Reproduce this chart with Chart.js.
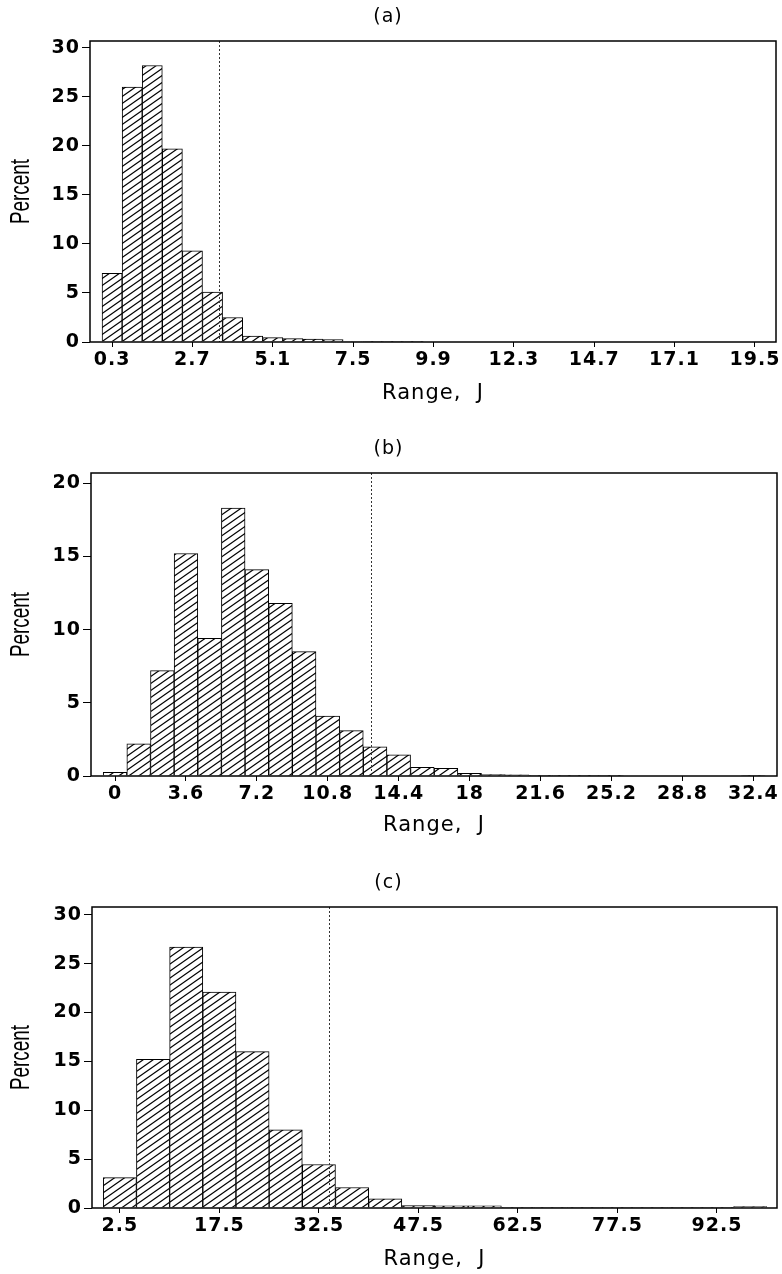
<!DOCTYPE html>
<html>
<head>
<meta charset="utf-8">
<script src="https://cdn.jsdelivr.net/npm/chart.js@4.4.1/dist/chart.umd.min.js"></script>
<style>
  html, body { margin: 0; padding: 0; background: #fff; }
  body { width: 782px; height: 1274px; position: relative; overflow: hidden; }
  canvas { position: absolute; left: 0; }
</style>
</head>
<body>
<canvas id="chartA" width="782" height="408" style="top:0px"></canvas>
<canvas id="chartB" width="782" height="408" style="top:432px"></canvas>
<canvas id="chartC" width="782" height="408" style="top:866px"></canvas>
<script>
// (a) bins of 0.6 J
const binsA = [0.3, 0.9, 1.5, 2.1, 2.7, 3.3, 3.9, 4.5, 5.1, 5.7, 6.3, 6.9, 7.5, 8.1, 8.7, 9.3];
const pctA  = [7.0, 26.0, 28.2, 19.7, 9.3, 5.1, 2.5, 0.6, 0.45, 0.35, 0.3, 0.25, 0.05, 0.04, 0.03, 0.02];
const xTicksA = [0.3, 2.7, 5.1, 7.5, 9.9, 12.3, 14.7, 17.1, 19.5];
const yTicksA = [0, 5, 10, 15, 20, 25, 30];
const cutA = 3.5;

// (b) bins of 1.2 J
const binsB = [0, 1.2, 2.4, 3.6, 4.8, 6.0, 7.2, 8.4, 9.6, 10.8, 12.0, 13.2, 14.4, 15.6, 16.8, 18.0, 19.2, 20.4, 21.6, 22.8, 24.0, 25.2, 26.4, 27.6, 28.8, 30.0, 31.2, 32.4];
const pctB  = [0.25, 2.2, 7.2, 15.2, 9.4, 18.3, 14.1, 11.8, 8.5, 4.1, 3.1, 2.0, 1.45, 0.6, 0.52, 0.18, 0.1, 0.08, 0.01, 0.01, 0.05, 0.01, 0, 0, 0, 0, 0, 0.03];
const xTicksB = [0, 3.6, 7.2, 10.8, 14.4, 18, 21.6, 25.2, 28.8, 32.4];
const yTicksB = [0, 5, 10, 15, 20];
const cutB = 13.0;

// (c) bins of 5 J
const binsC = [2.5, 7.5, 12.5, 17.5, 22.5, 27.5, 32.5, 37.5, 42.5, 47.5, 52.5, 57.5, 62.5, 67.5, 72.5, 77.5, 82.5, 87.5, 92.5, 97.5];
const pctC  = [3.1, 15.2, 26.7, 22.1, 16.0, 8.0, 4.45, 2.1, 0.95, 0.25, 0.22, 0.22, 0.03, 0.02, 0.02, 0.02, 0.02, 0.02, 0.03, 0.15];
const xTicksC = [2.5, 17.5, 32.5, 47.5, 62.5, 77.5, 92.5];
const yTicksC = [0, 5, 10, 15, 20, 25, 30];
const cutC = 34.0;

// hatch pattern "///"
function hatch() {
  const W = 10, H = 7;
  const c = document.createElement('canvas');
  c.width = W; c.height = H;
  const g = c.getContext('2d');
  g.fillStyle = '#fff';
  g.fillRect(0, 0, W, H);
  g.strokeStyle = '#000';
  g.lineWidth = 1.2;
  for (let k = -1; k <= 1; k++) {
    g.beginPath();
    g.moveTo(-1, (k + 1) * H + H / W);
    g.lineTo(W + 1, (k + 1) * H - H - H / W);
    g.stroke();
  }
  return document.getElementById('chartA').getContext('2d').createPattern(c, 'repeat');
}
const fill = hatch();

const tickFont = { family: "'DejaVu Sans', sans-serif", size: 19, weight: 'bold' };

// letter spacing, frame, dotted cut line, narrow "Percent" label
const extras = {
  id: 'extras',
  beforeDraw(chart) { chart.ctx.letterSpacing = '1px'; },
  afterDatasetsDraw(chart, args, opts) {
    const { ctx, chartArea: a, scales } = chart;
    const x = scales.x.getPixelForValue(opts.cut);
    ctx.save();
    ctx.strokeStyle = '#333';
    ctx.lineWidth = 1;
    ctx.setLineDash([2, 2]);
    ctx.beginPath();
    ctx.moveTo(Math.round(x) + 0.5, a.top);
    ctx.lineTo(Math.round(x) + 0.5, a.bottom);
    ctx.stroke();
    ctx.setLineDash([]);
    ctx.lineWidth = 1.5;
    ctx.strokeStyle = '#000';
    ctx.strokeRect(a.left, a.top, a.right - a.left, a.bottom - a.top);
    ctx.restore();
  },
  afterDraw(chart, args, opts) {
    const { ctx, chartArea: a } = chart;
    ctx.save();
    ctx.letterSpacing = '0px';
    ctx.translate(22, (a.top + a.bottom) / 2);
    ctx.rotate(-Math.PI / 2);
    ctx.scale(0.7, 1);
    ctx.font = "27px 'Liberation Sans', sans-serif";
    ctx.fillStyle = '#000';
    ctx.textAlign = 'center';
    ctx.textBaseline = 'middle';
    ctx.fillText(opts.yLabel, 0, 0);
    ctx.restore();
  }
};

function makeHist(id, title, bins, pct, xTicks, yTicks, xmin, xmax, ymax, cut, yWidth, xHeight, padRight) {
  new Chart(document.getElementById(id), {
    type: 'bar',
    data: {
      datasets: [{
        data: bins.map((b, i) => ({ x: b, y: pct[i] })),
        backgroundColor: fill,
        borderColor: '#000',
        borderWidth: 1,
        barPercentage: 1,
        categoryPercentage: 1
      }]
    },
    options: {
      responsive: false,
      animation: false,
      layout: { padding: { left: 0, right: padRight, top: 0, bottom: 0 } },
      plugins: {
        legend: { display: false },
        tooltip: { enabled: false },
        title: {
          display: true, text: title, color: '#000',
          font: { family: "'DejaVu Sans', sans-serif", size: 19, weight: 'normal' },
          padding: { top: 6, bottom: 12.2 }
        },
        extras: { cut: cut, yLabel: 'Percent' }
      },
      scales: {
        x: {
          type: 'linear', min: xmin, max: xmax, offset: false,
          afterBuildTicks: s => { s.ticks = xTicks.map(v => ({ value: v })); },
          afterFit: s => { s.height = xHeight; },
          grid: { display: true, drawOnChartArea: false, offset: false, tickLength: 5, color: '#000' },
          border: { display: false },
          ticks: { color: '#000', font: tickFont, padding: 2, maxRotation: 0, autoSkip: false, callback: v => String(v) },
          title: {
            display: true, text: 'Range,  J', color: '#000',
            font: { family: "'DejaVu Sans', sans-serif", size: 21, weight: 'normal' },
            padding: { top: 0, bottom: 2 }
          }
        },
        y: {
          min: 0, max: ymax,
          afterBuildTicks: s => { s.ticks = yTicks.map(v => ({ value: v })); },
          afterFit: s => { s.width = yWidth; },
          grid: { display: true, drawOnChartArea: false, tickLength: 8, color: '#000' },
          border: { display: false },
          ticks: { color: '#000', font: tickFont, padding: 2, callback: v => String(v) },
          title: { display: false }
        }
      }
    },
    plugins: [extras]
  });
}

makeHist('chartA', '(a)', binsA, pctA, xTicksA, yTicksA, -0.36, 20.13, 30.7, cutA, 90, 66, 6);
makeHist('chartB', '(b)', binsB, pctB, xTicksB, yTicksB, -1.22, 33.6, 20.7, cutB, 91, 64, 5);
makeHist('chartC', '(c)', binsC, pctC, xTicksC, yTicksC, -1.7, 101.55, 30.8, cutC, 92, 66, 5);
</script>
</body>
</html>
